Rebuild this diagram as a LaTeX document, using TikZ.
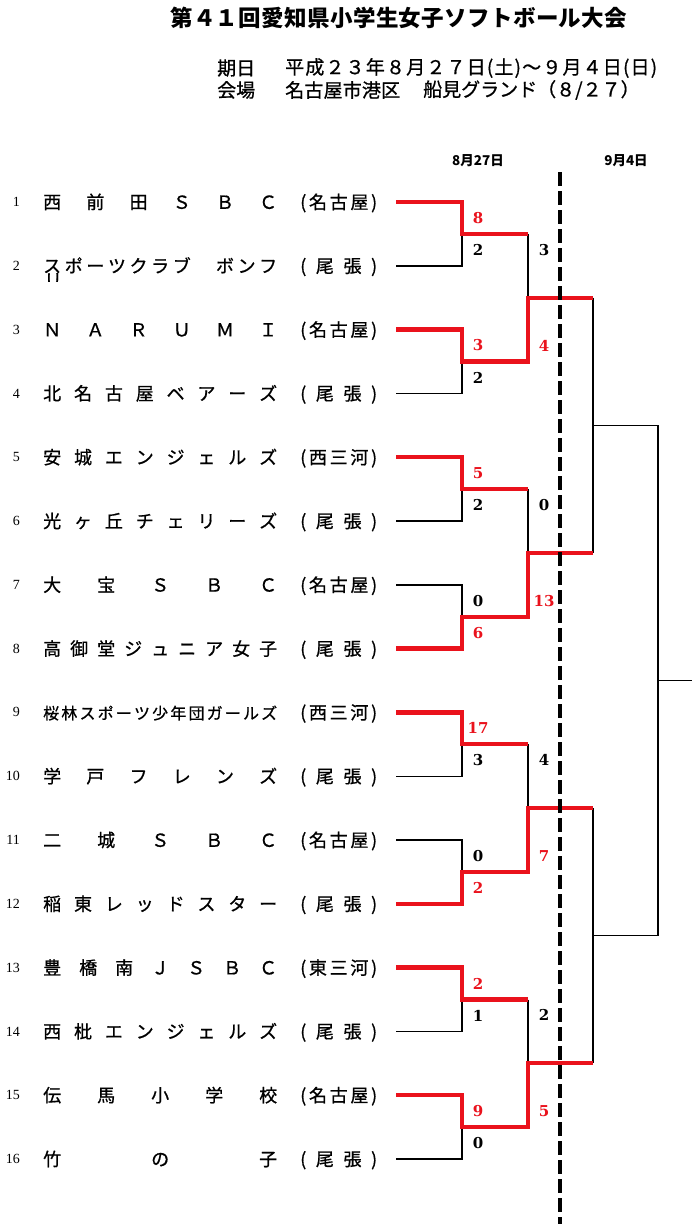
\documentclass[tikz,border=0pt]{standalone}
\usepackage{fontspec}
\setmainfont{Liberation Serif}
\newfontfamily\jp{Noto Sans CJK JP}
\newfontfamily\jpm[FakeBold=0.8]{Noto Sans CJK JP}
\newfontfamily\scorefont{DejaVu Serif}
\usetikzlibrary{calc}
\makeatletter
\def\spreadit#1{\spread@a#1\@nil}
\def\spread@a#1#2\@nil{#1\if\relax\detokenize{#2}\relax\else\hfill\spread@a#2\@nil\fi}
\makeatother
\definecolor{winred}{RGB}{234,18,28}
\begin{document}
\begin{tikzpicture}[x=1pt,y=-1pt,
  lose/.style={line width=1.4pt,black},
  win/.style={line width=4.3pt,winred},
  namebox/.style={anchor=west,inner sep=0pt,text height=15.8pt,text depth=2.2pt},
  regbox/.style={anchor=west,inner sep=0pt,text height=15.8pt,text depth=2.2pt,font=\jpm\fontsize{18}{18}\selectfont},
  numlbl/.style={anchor=east,inner sep=0pt,font=\fontsize{14}{14}\selectfont},
  score/.style={inner sep=0pt,font=\scorefont\bfseries\fontsize{15}{15}\selectfont},
  wscore/.style={score,text=winred},
  hdr/.style={anchor=west,inner sep=0pt,font=\jpm\fontsize{19}{19}\selectfont},
  datelbl/.style={inner sep=0pt,font=\jp\bfseries\fontsize{13.5}{13.5}\selectfont},
  divider/.style={line width=3.5pt,black,dash pattern=on 14pt off 5pt}
]
\fill[white] (0,0) rectangle (700,1224);
\useasboundingbox (0,0) rectangle (700,1224);

% title and header
\node[anchor=west,inner sep=0pt,font=\jp\bfseries\fontsize{22.5}{22.5}\selectfont] (title) at (170,18)
  {\makebox[457pt][s]{\spreadit{第４１回愛知県小学生女子ソフトボール大会}}};
\node[hdr] (kijitsu) at (217,68) {期日};
\node[hdr] (date) at (285,68) {\makebox[372pt][s]{\spreadit{平成２３年８月２７日(土)～９月４日(日)}}};
\node[hdr] (kaijo) at (217,90) {会場};
\node[hdr] (place1) at (285,90) {\makebox[115pt][s]{\spreadit{名古屋市港区}}};
\node[hdr] (place2) at (423,90) {\makebox[214pt][s]{\spreadit{船見グランド（８/２７）}}};
\node[datelbl] (day1) at (478,161) {8月27日};
\node[datelbl] (day2) at (626,161) {9月4日};

% teams
\foreach \i/\nm/\rg/\fs in {
  1/西前田ＳＢＣ/(名古屋)/18,
  2/スポーツクラブ　ボンフ/(尾張)/18,
  3/ＮＡＲＵＭＩ/(名古屋)/18,
  4/北名古屋ベアーズ/(尾張)/18,
  5/安城エンジェルズ/(西三河)/18,
  6/光ヶ丘チェリーズ/(尾張)/18,
  7/大宝ＳＢＣ/(名古屋)/18,
  8/高御堂ジュニア女子/(尾張)/18,
  9/桜林スポーツ少年団ガールズ/(西三河)/16,
  10/学戸フレンズ/(尾張)/18,
  11/二城ＳＢＣ/(名古屋)/18,
  12/稲東レッドスター/(尾張)/18,
  13/豊橋南ＪＳＢＣ/(東三河)/18,
  14/西枇エンジェルズ/(尾張)/18,
  15/伝馬小学校/(名古屋)/18,
  16/竹の子/(尾張)/18}{
  \pgfmathsetmacro\yy{202+(\i-1)*63.8}
  \coordinate (t\i) at (396,\yy);
  \node[numlbl] (k\i) at (20,\yy) {\i};
  \node[namebox,font=\jpm\fontsize{\fs}{\fs}\selectfont] (n\i) at (43,\yy)
    {\makebox[234pt][s]{\expandafter\spreadit\expandafter{\nm}}};
  \node[regbox] (g\i) at (300,\yy) {\makebox[77pt][s]{\expandafter\spreadit\expandafter{\rg}}};
}
% overflowing second line of team 2
\begin{scope}
  \clip (40,272) rectangle (70,281);
  \node[anchor=north west,inner sep=0pt,font=\jpm\fontsize{18}{18}\selectfont] (n2b) at (44,273) {リ};
\end{scope}

% bracket junctions
\foreach \k in {1,...,8}{
  \pgfmathsetmacro\yy{202+(2*\k-1.5)*63.8}
  \coordinate (a\k) at (462,\yy);
  \coordinate (p\k) at (528,\yy);
}
\foreach \j in {1,...,4}{
  \pgfmathsetmacro\yy{202+(4*\j-2.5)*63.8}
  \coordinate (b\j) at (528,\yy);
  \coordinate (q\j) at (593,\yy);
}
\foreach \c in {1,2}{
  \pgfmathsetmacro\yy{202+(8*\c-4.5)*63.8}
  \coordinate (c\c) at (593,\yy);
  \coordinate (r\c) at (658,\yy);
}
\coordinate (f) at (658,{202+7.5*63.8});
\coordinate (e) at (692,{202+7.5*63.8});

% black (losing) lines
\foreach \t/\a in {2/1,4/2,6/3,7/4,10/5,11/6,14/7,16/8}{
  \draw[lose] (t\t) -| (a\a);
}
\foreach \p/\b in {1/1,3/2,5/3,7/4}{
  \draw[lose] (p\p) -- (b\b);
}
\draw[lose] (q1) -- (q2);
\draw[lose] (c1) -- (r1);
\draw[lose] (q3) -- (q4);
\draw[lose] (c2) -- (r2);
\draw[lose] (r1) -- (r2);
\draw[lose] (f) -- (e);

% red (winning) lines
\draw[win] (t1) -| (a1) -- (p1);
\draw[win] (t3) -| (a2) -- (p2) -- (b1) -- (q1);
\draw[win] (t5) -| (a3) -- (p3);
\draw[win] (t8) -| (a4) -- (p4) -- (b2) -- (q2);
\draw[win] (t9) -| (a5) -- (p5);
\draw[win] (t12) -| (a6) -- (p6) -- (b3) -- (q3);
\draw[win] (t13) -| (a7) -- (p7);
\draw[win] (t15) -| (a8) -- (p8) -- (b4) -- (q4);

% round 1 scores
\node[wscore] (s1a) at ($(a1)+(16,-16)$) {8};
\node[score]  (s1b) at ($(a1)+(16,16)$) {2};
\node[wscore] (s2a) at ($(a2)+(16,-16)$) {3};
\node[score]  (s2b) at ($(a2)+(16,16)$) {2};
\node[wscore] (s3a) at ($(a3)+(16,-16)$) {5};
\node[score]  (s3b) at ($(a3)+(16,16)$) {2};
\node[score]  (s4a) at ($(a4)+(16,-16)$) {0};
\node[wscore] (s4b) at ($(a4)+(16,16)$) {6};
\node[wscore] (s5a) at ($(a5)+(16,-16)$) {17};
\node[score]  (s5b) at ($(a5)+(16,16)$) {3};
\node[score]  (s6a) at ($(a6)+(16,-16)$) {0};
\node[wscore] (s6b) at ($(a6)+(16,16)$) {2};
\node[wscore] (s7a) at ($(a7)+(16,-16)$) {2};
\node[score]  (s7b) at ($(a7)+(16,16)$) {1};
\node[wscore] (s8a) at ($(a8)+(16,-16)$) {9};
\node[score]  (s8b) at ($(a8)+(16,16)$) {0};
% round 2 scores
\node[score]  (u1a) at ($(b1)+(16,-48)$) {3};
\node[wscore] (u1b) at ($(b1)+(16,48)$) {4};
\node[score]  (u2a) at ($(b2)+(16,-48)$) {0};
\node[wscore] (u2b) at ($(b2)+(16,48)$) {13};
\node[score]  (u3a) at ($(b3)+(16,-48)$) {4};
\node[wscore] (u3b) at ($(b3)+(16,48)$) {7};
\node[score]  (u4a) at ($(b4)+(16,-48)$) {2};
\node[wscore] (u4b) at ($(b4)+(16,48)$) {5};

% day divider
\coordinate (dtop) at (560,172);
\coordinate (dbot) at (560,1224);
\draw[divider] (dtop) -- (dbot);
\end{tikzpicture}
\end{document}
